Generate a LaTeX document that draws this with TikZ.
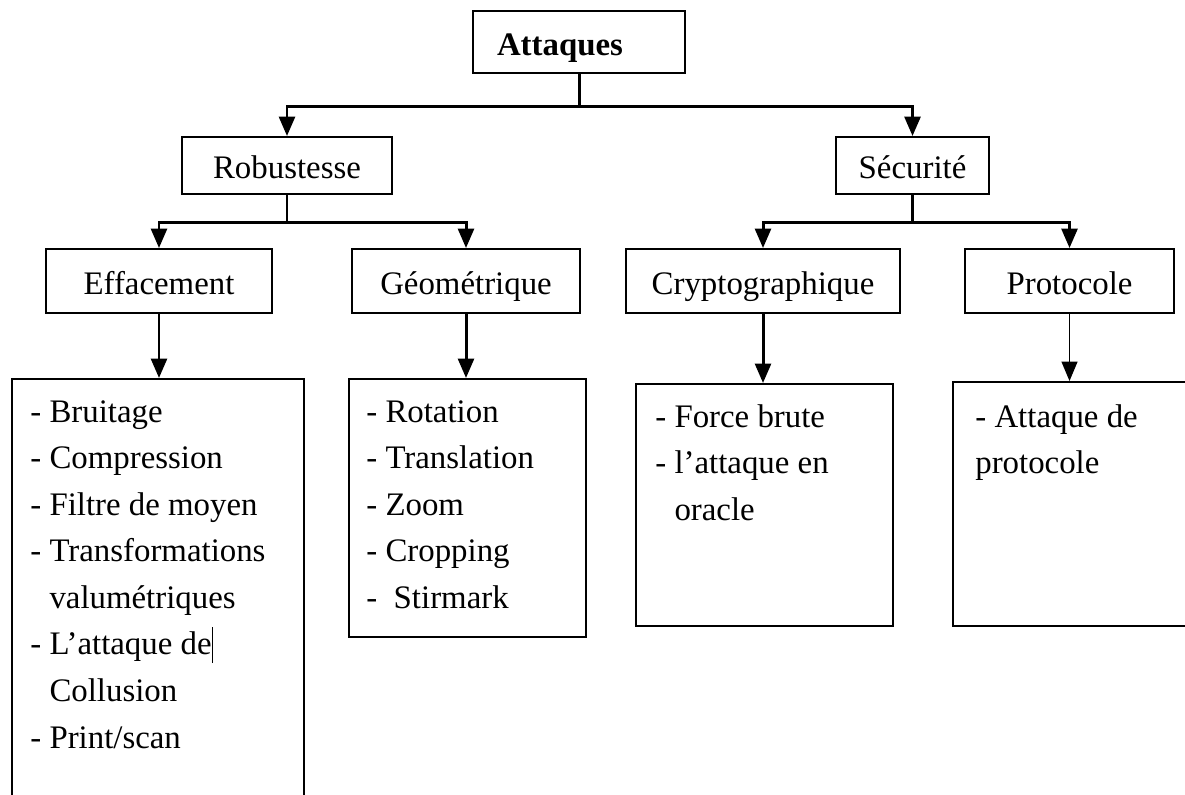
\documentclass[tikz,border=0pt]{standalone}
\usepackage{fontspec}
\setmainfont{Liberation Serif}
\usetikzlibrary{arrows.meta}
\tikzset{
	boite/.style	=	{draw, line width=1.1pt, inner sep=0pt, text height=16pt, text depth=1pt, font=\fontsize{18.7}{26.5}\selectfont},
	fleche/.style	=	{line width=1.7pt, -{Triangle[width=9pt,length=11pt]}},
	liste/.style	=	{anchor=north west, align=left, inner sep=0pt, font=\fontsize{18.7}{26.5}\selectfont},
}
\begin{document}
\begin{tikzpicture}[x=0.02cm, y=-0.02cm]
				% Clip
				\clip 					(0,0)	rectangle	(1185,794)	;
				% Fond
				\fill [color=white]		(0,0)	rectangle	(1185,794)	;
				% Titre
				\node [boite, minimum width=4.24cm, minimum height=1.24cm, inner xsep=0.48cm, text width=3.28cm, align=left, font=\fontsize{18.7}{26.5}\selectfont\bfseries]
						(att)	at	(579, 42)		{Attaques};
				% Familles
				\node [boite, minimum width=4.2cm,  minimum height=1.14cm]	(rob)	at	(287, 165.5)	{Robustesse};
				\node [boite, minimum width=3.06cm, minimum height=1.14cm]	(sec)	at	(912.5, 165.5)	{Sécurité};
				% Sous-familles
				\node [boite, minimum width=4.52cm, minimum height=1.28cm]	(eff)	at	(159, 281)		{Effacement};
				\node [boite, minimum width=4.56cm, minimum height=1.28cm]	(geo)	at	(466, 281)		{Géométrique};
				\node [boite, minimum width=5.48cm, minimum height=1.28cm]	(cry)	at	(763, 281)		{Cryptographique};
				\node [boite, minimum width=4.18cm, minimum height=1.28cm]	(pro)	at	(1069.5, 281)	{Protocole};
				% Cadres des listes
				\node [boite, anchor=north west, minimum width=5.84cm, minimum height=8.44cm]	(lst1)	at	(11, 378)	{};
				\node [boite, anchor=north west, minimum width=4.74cm, minimum height=5.16cm]	(lst2)	at	(348, 378)	{};
				\node [boite, anchor=north west, minimum width=5.14cm, minimum height=4.84cm]	(lst3)	at	(635, 383)	{};
				\node [boite, anchor=north west, minimum width=4.72cm, minimum height=4.88cm]	(lst4)	at	(952, 381)	{};
				% Listes
				\node [liste]	(txt1)	at	(30, 400)	{- Bruitage\\- Compression\\- Filtre de moyen\\- Transformations\\\phantom{- }valumétriques\\- L’attaque de\rule[-0.25em]{0.7pt}{1.1em}\\\phantom{- }Collusion\\- Print/scan};
				\node [liste]	(txt2)	at	(366, 400)	{- Rotation\\- Translation\\- Zoom\\- Cropping\\-\ \ Stirmark};
				\node [liste]	(txt3)	at	(655, 404)	{- Force brute\\- l’attaque en\\\phantom{- }oracle};
				\node [liste]	(txt4)	at	(975, 404)	{- Attaque de\\protocole};
				% Flèches
				\draw [fleche]	(att.south) -- ++(0,33) -| (rob.north);
				\draw [fleche]	(att.south) -- ++(0,33) -| (sec.north);
				\draw [fleche]	(rob.south) -- ++(0,28) -| (eff.north);
				\draw [fleche]	(rob.south) -- ++(0,28) -| (geo.north);
				\draw [fleche]	(sec.south) -- ++(0,28) -| (cry.north);
				\draw [fleche]	(sec.south) -- ++(0,28) -| (pro.north);
				\draw [fleche]	(eff.south) -- (eff.south |- lst1.north);
				\draw [fleche]	(geo.south) -- (geo.south |- lst2.north);
				\draw [fleche]	(cry.south) -- (cry.south |- lst3.north);
				\draw [fleche, line width=0.9pt]	(pro.south) -- (pro.south |- lst4.north);
\end{tikzpicture}
\end{document}
